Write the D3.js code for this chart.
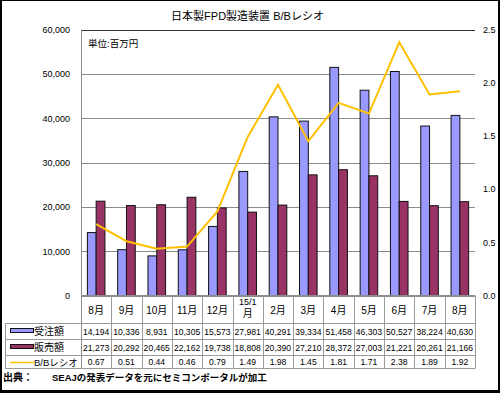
<!DOCTYPE html>
<html><head><meta charset="utf-8">
<script src="https://cdn.jsdelivr.net/npm/d3@7"></script>
<style>
body{margin:0;background:#fff;}
text{font-family:"Liberation Sans",Arial,"Noto Sans CJK JP",sans-serif;fill:#000;}
</style></head>
<body><svg id="c" width="500" height="393"></svg>
<script>
const categories = ["8月","9月","10月","11月","12月","15/1\n月","2月","3月","4月","5月","6月","7月","8月"];
const orders = [14194,10336,8931,10305,15573,27981,40291,39334,51458,46303,50527,38224,40630];
const sales = [21273,20292,20465,22162,19738,18808,20390,27210,28372,27003,21221,20261,21166];
const ratio = [0.67,0.51,0.44,0.46,0.79,1.49,1.98,1.45,1.81,1.71,2.38,1.89,1.92];
const leftTicks = [0,10000,20000,30000,40000,50000,60000];
const rightTicks = [0,0.5,1.0,1.5,2.0,2.5];
const seriesNames = ["受注額","販売額","B/Bレシオ"];
const title = "日本製FPD製造装置 B/Bレシオ";
const unitLabel = "単位:百万円";
const sourceLabel = "出典：";
const sourceText = "SEAJの発表データを元にセミコンポータルが加工";

const colors = {orders:"#9999FF", sales:"#993366", ratio:"#FFC000"};
const svg = d3.select("#c");
const L = 81, R = 475, T = 29.5, B = 295.5;

const x = d3.scaleBand().domain(d3.range(categories.length)).range([L, R]).padding(0);
const yL = d3.scaleLinear().domain([0, 60000]).range([B, T]);
const yR = d3.scaleLinear().domain([0, 2.5]).range([B, T]);
const bw = x.bandwidth() * 0.29;

// gridlines
svg.append("g").selectAll("line").data(leftTicks).join("line")
  .attr("x1", L).attr("x2", R)
  .attr("y1", d => Math.round(yL(d)) + 0.5).attr("y2", d => Math.round(yL(d)) + 0.5)
  .attr("stroke", d => d === 60000 ? "#333" : "#8c8c8c").attr("stroke-width", 1);
svg.append("line").attr("x1", L + 0.5).attr("x2", L + 0.5).attr("y1", T).attr("y2", 368)
  .attr("stroke", "#8c8c8c");

// axes
const gl = svg.append("g").attr("transform", `translate(${70},0)`)
  .call(d3.axisLeft(yL).tickValues(leftTicks).tickSize(0).tickPadding(0).tickFormat(d3.format(",")));
gl.select(".domain").remove();
gl.selectAll("text").attr("font-size", 9).attr("font-family", '"Liberation Sans",Arial,sans-serif');
const gr = svg.append("g").attr("transform", `translate(${483},0)`)
  .call(d3.axisRight(yR).tickValues(rightTicks).tickSize(0).tickPadding(0).tickFormat(d3.format(".1f")));
gr.select(".domain").remove();
gr.selectAll("text").attr("font-size", 9).attr("font-family", '"Liberation Sans",Arial,sans-serif');

// bars
svg.append("g").selectAll("rect").data(orders).join("rect")
  .attr("x", (d, i) => x(i) + x.bandwidth() / 2 - bw)
  .attr("y", d => yL(d)).attr("width", bw).attr("height", d => B - yL(d))
  .attr("fill", colors.orders).attr("stroke", "#111").attr("stroke-width", 1);
svg.append("g").selectAll("rect").data(sales).join("rect")
  .attr("x", (d, i) => x(i) + x.bandwidth() / 2)
  .attr("y", d => yL(d)).attr("width", bw).attr("height", d => B - yL(d))
  .attr("fill", colors.sales).attr("stroke", "#111").attr("stroke-width", 1);

// line
svg.append("path").datum(ratio)
  .attr("d", d3.line().x((d, i) => x(i) + x.bandwidth() / 2).y(d => yR(d)))
  .attr("fill", "none").attr("stroke", colors.ratio).attr("stroke-width", 2);

// table
const rows = [323.5, 339.5, 355.5, 368.5];
const tb = svg.append("g");
const border = "#9a9a9a";
rows.forEach(y => tb.append("line").attr("x1", 5).attr("x2", R).attr("y1", y).attr("y2", y).attr("stroke", border));
tb.append("line").attr("x1", L).attr("x2", R).attr("y1", B).attr("y2", B).attr("stroke", "#8c8c8c");
d3.range(1, categories.length + 1).forEach(i => {
  const xx = Math.round(x(i - 1) + x.bandwidth()) + 0.5;
  tb.append("line").attr("x1", xx).attr("x2", xx).attr("y1", B).attr("y2", 368.5).attr("stroke", border);
});
tb.append("line").attr("x1", 5.5).attr("x2", 5.5).attr("y1", 323.5).attr("y2", 368.5).attr("stroke", border);

// category labels
categories.forEach((c, i) => {
  const parts = c.split("\n");
  const cx = x(i) + x.bandwidth() / 2;
  if (parts.length === 1) {
    tb.append("text").attr("x", cx).attr("y", 314).attr("text-anchor", "middle").attr("font-size", 10).text(c);
  } else {
    tb.append("text").attr("x", cx).attr("y", 305).attr("text-anchor", "middle").attr("font-size", 9).text(parts[0]);
    tb.append("text").attr("x", cx).attr("y", 317).attr("text-anchor", "middle").attr("font-size", 10).text(parts[1]);
  }
});
const fmt = d3.format(",");
const rowData = [orders.map(fmt), sales.map(fmt), ratio.map(d3.format(".2f"))];
const baselines = [334.5, 350.5, 365];
rowData.forEach((vals, r) => {
  vals.forEach((v, i) => {
    tb.append("text").attr("x", x(i) + x.bandwidth() / 2).attr("y", baselines[r])
      .attr("text-anchor", "middle").attr("font-size", 8.6).text(v);
  });
});
// legend keys
tb.append("rect").attr("x", 10.5).attr("y", 328.5).attr("width", 23).attr("height", 4)
  .attr("fill", colors.orders).attr("stroke", "#111");
tb.append("rect").attr("x", 10.5).attr("y", 344.5).attr("width", 23).attr("height", 4)
  .attr("fill", colors.sales).attr("stroke", "#111");
tb.append("line").attr("x1", 10).attr("x2", 34).attr("y1", 362.5).attr("y2", 362.5)
  .attr("stroke", colors.ratio).attr("stroke-width", 1.5);
[335, 351, 366].forEach((y, i) => {
  tb.append("text").attr("x", 34).attr("y", y).attr("font-size", i === 2 ? 9.5 : 10).text(seriesNames[i]);
});

// title & notes
svg.append("text").attr("x", 247.5).attr("y", 20).attr("text-anchor", "middle").attr("font-size", 11).text(title);
svg.append("text").attr("x", 88).attr("y", 47).attr("font-size", 9.5).text(unitLabel);
svg.append("text").attr("x", 3).attr("y", 381).attr("font-size", 10).attr("font-weight", "bold")
  .attr("font-family", '"Liberation Serif","Noto Sans CJK JP",serif').text(sourceLabel);
svg.append("text").attr("x", 52).attr("y", 381).attr("font-size", 9.5).attr("font-weight", "bold")
  .attr("font-family", '"Liberation Serif","Noto Sans CJK JP",serif').text(sourceText);

// outer border
svg.append("line").attr("x1", 0).attr("x2", 500).attr("y1", 0.5).attr("y2", 0.5).attr("stroke", "#000");
svg.append("rect").attr("x", 0).attr("y", 0).attr("width", 2).attr("height", 393).attr("fill", "#000");
svg.append("rect").attr("x", 498).attr("y", 0).attr("width", 2).attr("height", 393).attr("fill", "#000");
svg.append("rect").attr("x", 0).attr("y", 390).attr("width", 500).attr("height", 3).attr("fill", "#000");
</script></body></html>
